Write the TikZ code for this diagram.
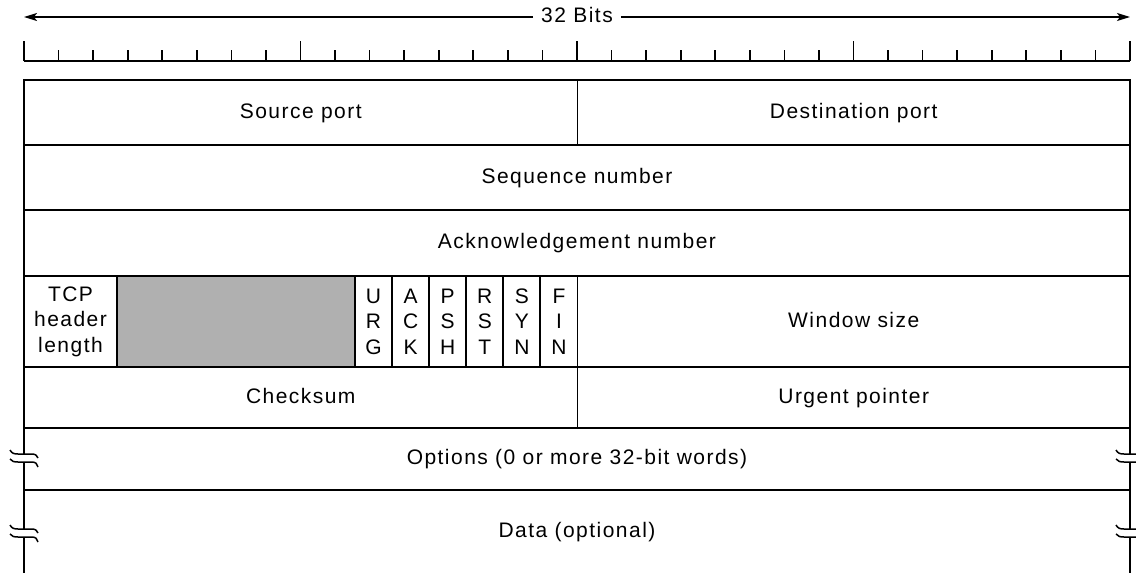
\documentclass[tikz,border=0pt]{standalone}
\usepackage{fontspec}
\setmainfont{Liberation Sans}[LetterSpace=7]
\usetikzlibrary{arrows.meta}
\newcommand\fieldfont{\fontsize{21}{25.5}\selectfont}
\begin{document}
\begin{tikzpicture}[x=1pt,y=-1pt,
  frame/.style={line width=1.9pt},
  tickline/.style={line width=1.7pt},
  cell/.style={draw, line width=1.9pt, anchor=north west, inner sep=0pt,
               outer sep=0pt, align=center, font=\fieldfont},
  oneline/.style={text height=15pt, text depth=4pt},
  txt/.style={inner sep=0pt, font=\fieldfont, align=center, oneline},
  brkline/.style={line width=1.5pt},
  brk/.pic={
    \draw[brkline] (-14,-8) .. controls (-12,-4.5) and (-10,-4) .. (-6,-4)
                   -- (8,-4) .. controls (12,-4) and (13,-2) .. (14,0);
    \draw[brkline] (-14,1) .. controls (-12,3.5) and (-10,4) .. (-6,4)
                   -- (8,4) .. controls (12,4) and (13,6) .. (14,9);
  }]
\useasboundingbox (0,0) rectangle (1136,573);

% width label with arrows to both ends
\node[txt, inner xsep=8pt] (bits) at (577,17) {32 Bits};
\coordinate (aL) at (24,17);
\coordinate (aR) at (1130,17);
\draw[line width=1.5pt, -{Stealth[length=13pt,width=8pt,inset=3pt]}] (bits.west) -- (aL);
\draw[line width=1.5pt, -{Stealth[length=13pt,width=8pt,inset=3pt]}] (bits.east) -- (aR);

% bit ruler
\draw[tickline] (24,61) -- (1130,61);
\foreach \i in {0,...,32}{
  \pgfmathtruncatemacro\m{mod(\i,8)}
  \ifnum\m=0
    \draw[tickline] ({24+\i*34.5625},61) -- ({24+\i*34.5625},41);
  \else
    \draw[tickline] ({24+\i*34.5625},61) -- ({24+\i*34.5625},50);
  \fi
}

% header fields
\node[cell, oneline, minimum width=553.5pt, minimum height=65pt] (src) at (24,80) {Source port};
\node[cell, oneline, minimum width=552.5pt, minimum height=65pt] (dst) at (577.5,80) {Destination port};
\node[cell, oneline, minimum width=1106pt, minimum height=65pt] (seq) at (24,145) {Sequence number};
\node[cell, oneline, minimum width=1106pt, minimum height=66pt] (ack) at (24,210) {Acknowledgement number};

\node[cell, minimum width=93pt, minimum height=91pt] (hlen) at (24,276) {TCP\\header\\length};
\node[cell, minimum width=238pt, minimum height=91pt, fill=black!31] (rsv) at (117,276) {};
\foreach \f [count=\i from 0] in {U\\R\\G, A\\C\\K, P\\S\\H, R\\S\\T, S\\Y\\N, F\\I\\N}{
  \node[cell, minimum width=37.083pt, minimum height=91pt]
    (flag\i) at ({355+\i*37.083},276) {\f};
}
\node[cell, oneline, minimum width=552.5pt, minimum height=91pt] (win) at (577.5,276) {Window size};

\node[cell, oneline, minimum width=553.5pt, minimum height=61pt] (chk) at (24,367) {Checksum};
\node[cell, oneline, minimum width=552.5pt, minimum height=61pt] (urg) at (577.5,367) {Urgent pointer};

% variable-length part: options and data, with broken side lines
\draw[frame] (24,490) -- (1130,490);
\node[txt] (opt) at (577,459) {Options (0 or more 32-bit words)};
\node[txt] (data) at (577,532) {Data (optional)};

\foreach \x in {24,1130}{
  \draw[frame] (\x,428) -- (\x,454);
  \draw[frame] (\x,462) -- (\x,529);
  \draw[frame] (\x,537) -- (\x,573);
  \pic at (\x,458) {brk};
  \pic at (\x,533) {brk};
}
\end{tikzpicture}
\end{document}
